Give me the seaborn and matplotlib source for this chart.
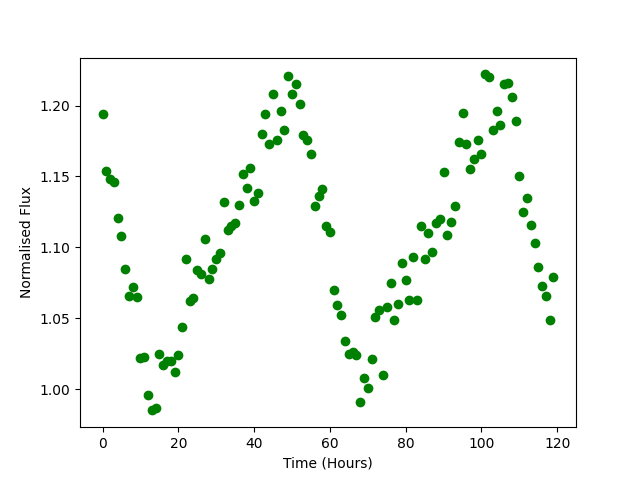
import numpy as np
import pandas as pd
import seaborn as sns
from matplotlib import pyplot as plt

# time of each measurement (hours)
hours = [0, 1, 2, 3, 4, 5, 6, 7, 8, 9,
         10, 11, 12, 13, 14, 15, 16, 17, 18, 19,
         20, 21, 22, 23, 24, 25, 26, 27, 28, 29,
         30, 31, 32, 33, 34, 35, 36, 37, 38, 39,
         40, 41, 42, 43, 44, 45, 46, 47, 48, 49,
         50, 51, 52, 53, 54, 55, 56, 57, 58, 59,
         60, 61, 62, 63, 64, 65, 66, 67, 68, 69,
         70, 71, 72, 73, 74, 75, 76, 77, 78, 79,
         80, 81, 82, 83, 84, 85, 86, 87, 88, 89,
         90, 91, 92, 93, 94, 95, 96, 97, 98, 99,
         100, 101, 102, 103, 104, 105, 106, 107, 108, 109,
         110, 111, 112, 113, 114, 115, 116, 117, 118, 119]

# normalised flux
flux = [1.194, 1.154, 1.148, 1.146, 1.121, 1.108, 1.085, 1.066, 1.072, 1.065,
        1.022, 1.023, 0.996, 0.985, 0.987, 1.025, 1.017, 1.020, 1.020, 1.012,
        1.024, 1.044, 1.092, 1.062, 1.064, 1.084, 1.081, 1.106, 1.078, 1.085,
        1.092, 1.096, 1.132, 1.112, 1.115, 1.117, 1.130, 1.152, 1.142, 1.156,
        1.133, 1.138, 1.180, 1.194, 1.173, 1.208, 1.176, 1.196, 1.183, 1.221,
        1.208, 1.215, 1.201, 1.179, 1.176, 1.166, 1.129, 1.136, 1.141, 1.115,
        1.111, 1.070, 1.059, 1.052, 1.034, 1.025, 1.026, 1.024, 0.991, 1.008,
        1.001, 1.021, 1.051, 1.056, 1.010, 1.058, 1.075, 1.049, 1.060, 1.089,
        1.077, 1.063, 1.093, 1.063, 1.115, 1.092, 1.110, 1.097, 1.117, 1.120,
        1.153, 1.109, 1.118, 1.129, 1.174, 1.195, 1.173, 1.155, 1.162, 1.176,
        1.166, 1.222, 1.220, 1.183, 1.196, 1.186, 1.215, 1.216, 1.206, 1.189,
        1.150, 1.125, 1.135, 1.116, 1.103, 1.086, 1.073, 1.066, 1.049, 1.079]

df = pd.DataFrame({'time': hours, 'flux': flux})

fig, ax = plt.subplots(figsize=(6.4, 4.8), dpi=100)
sns.scatterplot(data=df, x='time', y='flux', color='green', edgecolor='green',
                s=36, linewidth=1, ax=ax)
ax.set_xlabel('Time (Hours)')
ax.set_ylabel('Normalised Flux')
fig.savefig('out.png', dpi=100)
